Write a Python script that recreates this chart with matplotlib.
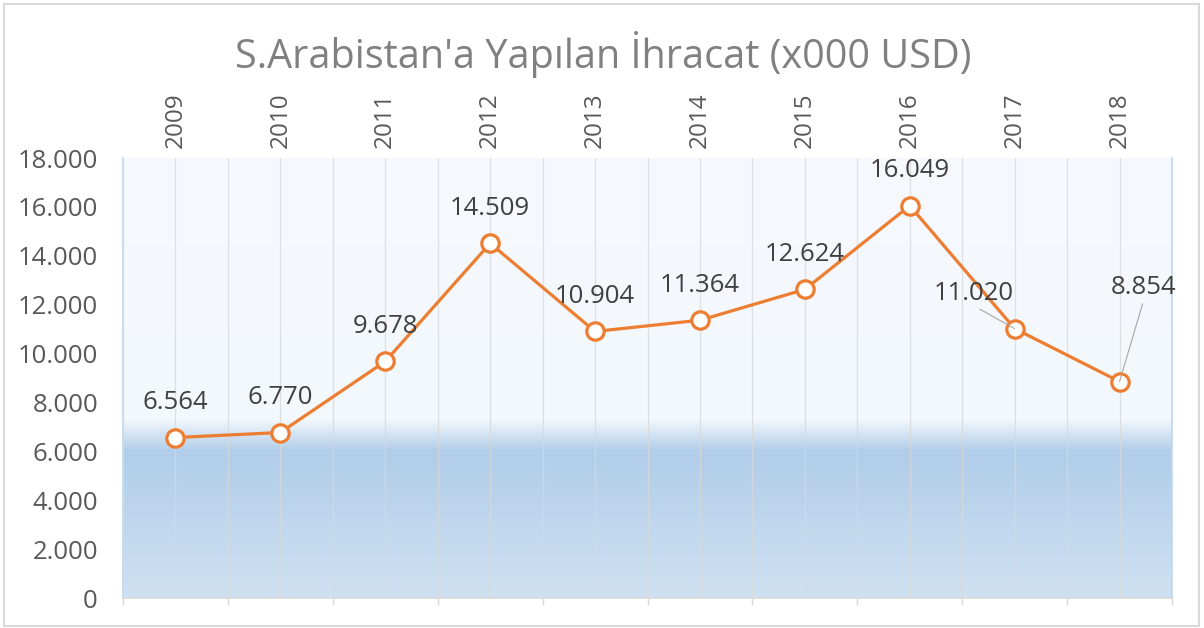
import numpy as np
import matplotlib.pyplot as plt
from matplotlib.colors import to_rgb
from matplotlib.patches import Rectangle
from matplotlib.ticker import FuncFormatter

years = ["2009", "2010", "2011", "2012", "2013", "2014", "2015", "2016", "2017", "2018"]
exports = [6564, 6770, 9678, 14509, 10904, 11364, 12624, 16049, 11020, 8854]
value_labels = ["6.564", "6.770", "9.678", "14.509", "10.904", "11.364",
                "12.624", "16.049", "11.020", "8.854"]

plt.rcParams['font.family'] = ['Open Sans', 'DejaVu Sans']

fig = plt.figure(figsize=(12.04, 6.28), dpi=100)
ax = fig.add_axes([123 / 1204, 30 / 628, 1049 / 1204, 440 / 628])
x = np.arange(len(years))
ax.set_xlim(-0.5, len(years) - 0.5)
ax.set_ylim(0, 18000)

# plot-area gradient (light top, blue band below ~6.000)
stops_v = [0, 6000, 7300, 18000]
stops_c = [to_rgb("#cfe1f2"), to_rgb("#b1cde9"), to_rgb("#f3f8fc"), to_rgb("#f6f9fd")]
yy = np.linspace(0, 18000, 600)
grad = np.stack([np.interp(yy, stops_v, [c[i] for c in stops_c]) for i in range(3)], axis=-1)
ax.imshow(grad[:, None, :], extent=(-0.5, len(years) - 0.5, 0, 18000), origin="lower",
          aspect="auto", zorder=0, interpolation="bilinear")

# vertical gridlines at categories and between them
ax.set_xticks(x)
ax.set_xticks(np.arange(-0.5, len(years)), minor=True)
ax.grid(axis="x", which="both", color="#d9d9d9", lw=0.9, alpha=0.8, zorder=1)
ax.set_axisbelow(False)

ax.plot(x, exports, color="#ed7d31", lw=2.3, marker="o", ms=12.5, mfc="white",
        mec="#ed7d31", mew=2.3, zorder=3)

# data labels
offsets = {8: (-29.5, 25.5), 9: (17.5, 68)}
for i, (v, lab) in enumerate(zip(exports, value_labels)):
    off = offsets.get(i, (0, 25))
    arrow = None
    if i in offsets:
        arrow = dict(arrowstyle="-", color="#a6a6a6", lw=0.8, shrinkA=1, shrinkB=0,
                     relpos=(0.5, 0.0))
    ax.annotate(lab, (i, v), xytext=off, textcoords="offset points", ha="center",
                va="center", fontsize=18.5, color="#404040", arrowprops=arrow, zorder=4)

# axes styling
ax.xaxis.tick_top()
ax.set_xticklabels(years, rotation=90, fontsize=17.5, color="#595959")
ax.tick_params(axis="x", which="major", length=0, pad=7)
ax.tick_params(axis="x", which="minor", bottom=True, top=False, length=5,
               color="#d9d9d9", width=1)
ax.set_yticks(np.arange(0, 18001, 2000))
ax.yaxis.set_major_formatter(FuncFormatter(lambda v, p: f"{int(v):,}".replace(",", ".")))
ax.tick_params(axis="y", length=0, pad=18, labelsize=18.5, labelcolor="#595959")
ax.spines["top"].set_visible(False)
ax.spines["bottom"].set_color("#d9d9d9")
ax.spines["left"].set_color("#bdd7ee")
ax.spines["right"].set_color("#bdd7ee")
for s in ("left", "right", "bottom"):
    ax.spines[s].set_linewidth(1.2)

fig.text(603 / 1204, 1 - 55 / 628, "S.Arabistan'a Yapılan İhracat (x000 USD)",
         ha="center", va="center", fontsize=28.5, color="#808080")

# outer frame
fig.patches.append(Rectangle((4 / 1204, 2 / 628), 1195 / 1204, 622 / 628,
                             transform=fig.transFigure, fill=False,
                             edgecolor="#d9d9d9", lw=1.5))

fig.savefig("out.png", dpi=100)
